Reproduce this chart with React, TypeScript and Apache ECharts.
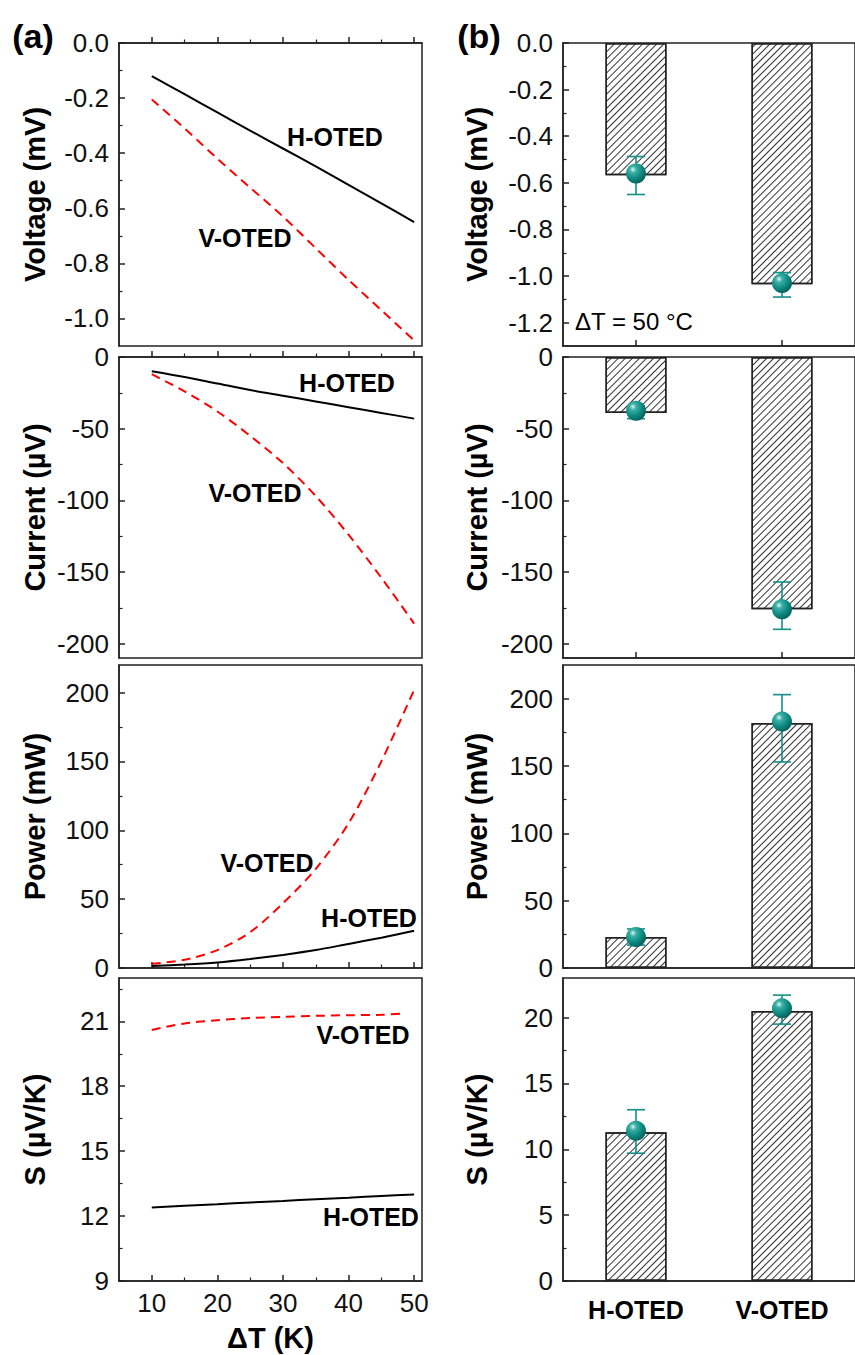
import React, { useEffect, useRef } from "react";
import * as echarts from "echarts";

// ---------- data ----------
const dT = [10, 15, 20, 25, 30, 35, 40, 45, 50];
const dTsV = [10, 15, 20, 25, 30, 35, 40, 45, 48];

const voltageH = [-0.12, -0.186, -0.252, -0.318, -0.383, -0.448, -0.515, -0.582, -0.65];
const voltageV = [-0.205, -0.31, -0.42, -0.525, -0.63, -0.745, -0.86, -0.97, -1.08];
const currentH = [-10, -14, -18.5, -23, -27, -31, -35, -39, -43];
const currentV = [-12, -24, -38, -55, -74, -97, -124, -154, -186];
const powerH = [1.5, 2.5, 4, 6.5, 9.5, 13, 17.5, 22, 27];
const powerV = [3, 6, 13, 26, 47, 72, 105, 150, 202];
const seebeckH = [12.4, 12.48, 12.55, 12.63, 12.7, 12.78, 12.85, 12.93, 13.0];
const seebeckV = [20.6, 20.9, 21.05, 21.15, 21.2, 21.25, 21.28, 21.3, 21.35];

const categories = ["H-OTED", "V-OTED"];
const voltBar = [-0.567, -1.035];
const voltPt = [-0.56, -1.03];
const voltLo = [-0.65, -1.09];
const voltHi = [-0.487, -0.985];
const currBar = [-39, -176];
const currPt = [-37.5, -176];
const currLo = [-43, -190];
const currHi = [-34, -157];
const powBar = [23, 182];
const powPt = [23, 183];
const powLo = [17, 153];
const powHi = [29, 203];
const sBar = [11.3, 20.5];
const sPt = [11.4, 20.7];
const sLo = [9.7, 19.5];
const sHi = [13.0, 21.7];

const xMajor = [10, 20, 30, 40, 50];
const xMinor = [15, 25, 35, 45];

// ---------- styling ----------
const FONT = '"Liberation Sans", Arial, sans-serif';
const AX = "#222";
const TEAL = "#138f87";
const TICK_FS = 26;
const TITLE_FS = 29;

const LEFT_X = 119;
const LEFT_W = 303;
const RIGHT_X = 563;
const RIGHT_W = 304;
const rows = [
  { top: 43, h: 303 },
  { top: 357, h: 301 },
  { top: 665, h: 303 },
  { top: 978, h: 303 },
];

function yPair(gridIndex: number, min: number, max: number, major: number[], minor: number[], fmt: (v: number) => string, name: string, nameGap: number) {
  return [
    {
      type: "value", gridIndex, min, max, position: "left",
      name, nameLocation: "middle", nameGap,
      nameTextStyle: { fontFamily: FONT, fontWeight: "bold", fontSize: TITLE_FS, color: "#000" },
      axisLine: { show: true, lineStyle: { color: AX, width: 1.5 } },
      axisTick: { show: true, inside: true, length: 6, lineStyle: { color: AX, width: 1.5 }, customValues: major },
      axisLabel: { show: true, customValues: major, formatter: (v: number) => fmt(v), fontFamily: FONT, fontSize: TICK_FS, color: "#111", margin: 10 },
      splitLine: { show: false },
    },
    {
      type: "value", gridIndex, min, max, position: "left",
      axisLine: { show: false },
      axisTick: { show: true, inside: true, length: 3.5, lineStyle: { color: AX, width: 1.2 }, customValues: minor },
      axisLabel: { show: false },
      splitLine: { show: false },
    },
  ];
}

function leftXPair(gridIndex: number, showLabels: boolean) {
  return [
    {
      type: "value", gridIndex, min: 5, max: 51.2, position: "bottom",
      name: showLabels ? "\u0394T (K)" : "", nameLocation: "middle", nameGap: 42,
      nameTextStyle: { fontFamily: FONT, fontWeight: "bold", fontSize: TITLE_FS, color: "#000" },
      axisLine: { show: true, lineStyle: { color: AX, width: 1.5 } },
      axisTick: { show: true, inside: true, length: 6, lineStyle: { color: AX, width: 1.5 }, customValues: xMajor },
      axisLabel: { show: showLabels, customValues: xMajor, fontFamily: FONT, fontSize: TICK_FS, color: "#111", margin: 9 },
      splitLine: { show: false },
    },
    {
      type: "value", gridIndex, min: 5, max: 51.2, position: "bottom",
      axisLine: { show: false },
      axisTick: { show: true, inside: true, length: 3.5, lineStyle: { color: AX, width: 1.2 }, customValues: xMinor },
      axisLabel: { show: false },
      splitLine: { show: false },
    },
  ];
}

function catAxis(gridIndex: number, showLabels: boolean) {
  return {
    type: "category", gridIndex, data: categories, position: "bottom",
    axisLine: { show: true, onZero: false, lineStyle: { color: AX, width: 1.5 } },
    axisTick: { show: true, inside: true, alignWithLabel: true, length: 6, lineStyle: { color: AX, width: 1.5 } },
    axisLabel: { show: showLabels, fontFamily: FONT, fontWeight: "bold", fontSize: 25, color: "#000", margin: 16 },
    splitLine: { show: false },
  };
}

const zip = (xs: number[], ys: number[]) => xs.map((x, i) => [x, ys[i]]);

function lineSeries(g: number, xs: number[], ys: number[], red: boolean) {
  return {
    type: "line", xAxisIndex: 2 * g, yAxisIndex: 2 * g,
    data: zip(xs, ys), symbol: "none", smooth: 0.3,
    lineStyle: red ? { color: "#ff0000", width: 2, type: [9, 6] } : { color: "#000", width: 2 },
    z: red ? 3 : 4,
  };
}

const sphere = {
  type: "radial", x: 0.35, y: 0.3, r: 0.75,
  colorStops: [
    { offset: 0, color: "#dff7f4" },
    { offset: 0.22, color: "#3bb0a6" },
    { offset: 0.6, color: "#0f8a82" },
    { offset: 1, color: "#005f59" },
  ],
};

function barGroup(g: number, bars: number[], pts: number[], lo: number[], hi: number[]) {
  const xi = 8 + (g - 4);
  const yi = 2 * g;
  return [
    {
      type: "bar", xAxisIndex: xi, yAxisIndex: yi, data: bars, barWidth: 61,
      itemStyle: {
        color: "#fff", borderColor: AX, borderWidth: 1.5,
        decal: { symbol: "rect", symbolSize: 1, color: "#333", dashArrayX: [1, 0], dashArrayY: [1, 3.8], rotation: -Math.PI / 4 },
      },
      z: 2,
    },
    {
      type: "custom", xAxisIndex: xi, yAxisIndex: yi,
      data: categories.map((_, i) => [i, lo[i], hi[i]]),
      encode: { x: 0, y: [1, 2] },
      renderItem: (params: any, api: any) => {
        const i = api.value(0);
        const a = api.coord([i, api.value(1)]);
        const b = api.coord([i, api.value(2)]);
        const w = 9;
        const style = { stroke: TEAL, lineWidth: 1.6 };
        return {
          type: "group",
          children: [
            { type: "line", shape: { x1: a[0], y1: a[1], x2: b[0], y2: b[1] }, style },
            { type: "line", shape: { x1: a[0] - w, y1: a[1], x2: a[0] + w, y2: a[1] }, style },
            { type: "line", shape: { x1: b[0] - w, y1: b[1], x2: b[0] + w, y2: b[1] }, style },
          ],
        };
      },
      z: 3,
    },
    {
      type: "scatter", xAxisIndex: xi, yAxisIndex: yi,
      data: pts.map((v, i) => [i, v]), symbol: "circle", symbolSize: 20,
      itemStyle: { color: sphere, opacity: 1 },
      z: 4,
    },
  ];
}

function txt(x: number, y: number, text: string, size: number, bold = true, align = "center") {
  return {
    type: "text", x, y, z: 10,
    style: {
      text, fill: "#000",
      font: `${bold ? "bold " : ""}${size}px ${FONT}`,
      align, verticalAlign: "middle", textAlign: align, textVerticalAlign: "middle",
    },
  };
}

export default function App() {
  const ref = useRef<HTMLDivElement>(null);
  useEffect(() => {
    if (!ref.current) return;
    const chart = echarts.init(ref.current, undefined, { renderer: "svg" });

    const grid: any[] = [];
    rows.forEach((r) => grid.push({ left: LEFT_X, top: r.top, width: LEFT_W, height: r.h, show: true, borderColor: AX, borderWidth: 1.5, backgroundColor: "transparent" }));
    rows.forEach((r) => grid.push({ left: RIGHT_X, top: r.top, width: RIGHT_W, height: r.h, show: true, borderColor: AX, borderWidth: 1.5, backgroundColor: "transparent" }));

    const f1 = (v: number) => v.toFixed(1);
    const f0 = (v: number) => String(Math.round(v));

    const yAxis: any[] = [
      ...yPair(0, -1.1, 0, [0, -0.2, -0.4, -0.6, -0.8, -1.0], [-0.1, -0.3, -0.5, -0.7, -0.9], f1, "Voltage (mV)", 70),
      ...yPair(1, -210, 0, [0, -50, -100, -150, -200], [-25, -75, -125, -175], f0, "Current (\u00b5V)", 70),
      ...yPair(2, 0, 220, [0, 50, 100, 150, 200], [25, 75, 125, 175], f0, "Power (mW)", 70),
      ...yPair(3, 9, 23, [9, 12, 15, 18, 21], [10.5, 13.5, 16.5, 19.5, 22.5], f0, "S (\u00b5V/K)", 70),
      ...yPair(4, -1.3, 0, [0, -0.2, -0.4, -0.6, -0.8, -1.0, -1.2], [-0.1, -0.3, -0.5, -0.7, -0.9, -1.1], f1, "Voltage (mV)", 72),
      ...yPair(5, -210, 0, [0, -50, -100, -150, -200], [-25, -75, -125, -175], f0, "Current (\u00b5V)", 72),
      ...yPair(6, 0, 225, [0, 50, 100, 150, 200], [25, 75, 125, 175], f0, "Power (mW)", 72),
      ...yPair(7, 0, 23, [0, 5, 10, 15, 20], [2.5, 7.5, 12.5, 17.5], f0, "S (\u00b5V/K)", 72),
    ];

    const xAxis: any[] = [
      ...leftXPair(0, false),
      ...leftXPair(1, false),
      ...leftXPair(2, false),
      ...leftXPair(3, true),
      catAxis(4, false),
      catAxis(5, false),
      catAxis(6, false),
      catAxis(7, true),
    ];

    const series: any[] = [
      lineSeries(0, dT, voltageH, false),
      lineSeries(0, dT, voltageV, true),
      lineSeries(1, dT, currentH, false),
      lineSeries(1, dT, currentV, true),
      lineSeries(2, dT, powerH, false),
      lineSeries(2, dT, powerV, true),
      lineSeries(3, dT, seebeckH, false),
      lineSeries(3, dTsV, seebeckV, true),
      ...barGroup(4, voltBar, voltPt, voltLo, voltHi),
      ...barGroup(5, currBar, currPt, currLo, currHi),
      ...barGroup(6, powBar, powPt, powLo, powHi),
      ...barGroup(7, sBar, sPt, sLo, sHi),
    ];

    const graphic: any[] = [
      txt(33, 36, "(a)", 34),
      txt(479, 36, "(b)", 34),
      txt(335, 137, "H-OTED", 25),
      txt(245, 238, "V-OTED", 25),
      txt(347, 383, "H-OTED", 25),
      txt(255, 493, "V-OTED", 25),
      txt(267, 863, "V-OTED", 25),
      txt(369, 918, "H-OTED", 25),
      txt(363, 1035, "V-OTED", 25),
      txt(371, 1217, "H-OTED", 25),
      txt(575, 321, "\u0394T = 50 \u00b0C", 24, false, "left"),
    ];

    chart.setOption({
      animation: false,
      backgroundColor: "#fff",
      textStyle: { fontFamily: FONT },
      grid, xAxis, yAxis, series, graphic,
    });
    return () => chart.dispose();
  }, []);

  return <div ref={ref} style={{ position: "absolute", left: 0, top: 0, width: 855, height: 1355 }} />;
}
